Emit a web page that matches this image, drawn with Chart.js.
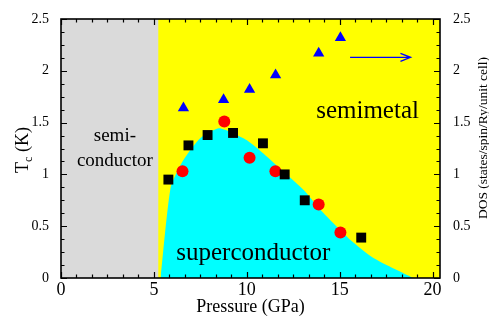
<!DOCTYPE html>
<html>
<head>
<meta charset="utf-8">
<script src="https://cdn.jsdelivr.net/npm/chart.js@4/dist/chart.umd.min.js"></script>
<style>
  html, body { margin: 0; padding: 0; background: #fff; }
  canvas { display: block; }
</style>
</head>
<body>
<canvas id="chart" width="489" height="320"></canvas>
<script>
// Tc (left axis) and DOS (right axis) vs pressure
var squareP  = [5.78, 6.86, 7.89, 9.26, 10.87, 12.04, 13.12, 16.16];
var squareTc = [0.95, 1.28, 1.38, 1.40, 1.30, 1.00, 0.75, 0.39];

var circleP  = [6.54, 8.79, 10.15, 11.54, 13.87, 15.04];
var circleTc = [1.03, 1.51, 1.16, 1.03, 0.71, 0.44];

var dosP   = [6.59, 8.75, 10.15, 11.55, 13.87, 15.04];
var dosVal = [1.64, 1.72, 1.82, 1.96, 2.17, 2.32];

// superconducting dome outline
var domeP  = [5.36, 5.91, 6.59, 7.49, 8.48, 9.11, 10.01, 10.91, 11.98, 13.06, 14.14, 15.58, 16.84, 18.81, 18.98];
var domeTc = [0, 0.88, 1.14, 1.35, 1.445, 1.41, 1.33, 1.20, 1.026, 0.85, 0.625, 0.367, 0.19, 0.013, 0];

// phase boundaries
var semiEdgeP = 5.25;
var pMax = 20.4;
var tcMax = 2.5;

// tick labels
var xTicks = [0, 5, 10, 15, 20];
var yTicks = [0, 0.5, 1, 1.5, 2, 2.5];

var SERIF = '"Liberation Serif", "Times New Roman", serif';

function pts(xs, ys) {
  return xs.map(function (x, i) { return { x: x, y: ys[i] }; });
}

function fixTicks(list) {
  return function (scale) {
    scale.ticks = list.map(function (v) { return { value: v }; });
  };
}

function yLabel(v) { return String(v); }

/** Inward ticks, frame, arrow, region labels and axis titles. */
var framePlugin = {
  id: 'frame',
  afterDatasetsDraw: function (chart) {
    var ctx = chart.ctx;
    var a = chart.chartArea;
    var xs = chart.scales.x, ys = chart.scales.y, y2 = chart.scales.y2;
    var i, v, px, len;

    ctx.save();
    ctx.strokeStyle = '#000';
    ctx.lineWidth = 1.2;
    ctx.beginPath();
    // x ticks top and bottom, major every 5, minor every 5/6
    for (i = 0; i * 5 / 6 <= pMax + 1e-6; i++) {
      v = i * 5 / 6;
      px = Math.round(xs.getPixelForValue(v)) + 0.5;
      len = (i % 6 === 0) ? 6 : 3.5;
      ctx.moveTo(px, a.bottom); ctx.lineTo(px, a.bottom - len);
      ctx.moveTo(px, a.top); ctx.lineTo(px, a.top + len);
    }
    // y ticks left and right, major every 0.5, minor every 0.125
    for (i = 0; i * 0.125 <= tcMax + 1e-6; i++) {
      v = i * 0.125;
      len = (i % 4 === 0) ? 6 : 3.5;
      px = Math.round(ys.getPixelForValue(v)) + 0.5;
      ctx.moveTo(a.left, px); ctx.lineTo(a.left + len, px);
      px = Math.round(y2.getPixelForValue(v)) + 0.5;
      ctx.moveTo(a.right, px); ctx.lineTo(a.right - len, px);
    }
    ctx.stroke();

    ctx.lineWidth = 1.6;
    ctx.strokeRect(a.left, a.top, a.right - a.left, a.bottom - a.top);

    // arrow pointing to the DOS axis
    var ax0 = xs.getPixelForValue(15.56), ax1 = xs.getPixelForValue(18.81);
    var ay = y2.getPixelForValue(2.13);
    ctx.strokeStyle = '#0000ff';
    ctx.lineWidth = 1.4;
    ctx.beginPath();
    ctx.moveTo(ax0, ay); ctx.lineTo(ax1, ay);
    ctx.moveTo(ax1 - 10, ay - 4); ctx.lineTo(ax1, ay); ctx.lineTo(ax1 - 10, ay + 4);
    ctx.stroke();

    // region labels
    ctx.fillStyle = '#000';
    ctx.textAlign = 'center';
    ctx.textBaseline = 'alphabetic';
    ctx.font = '25px ' + SERIF;
    ctx.fillText('semimetal', xs.getPixelForValue(16.5), ys.getPixelForValue(1.54));
    ctx.fillText('superconductor', xs.getPixelForValue(10.35), ys.getPixelForValue(0.17));
    ctx.font = '19px ' + SERIF;
    ctx.fillText('semi-', xs.getPixelForValue(2.9), ys.getPixelForValue(1.32));
    ctx.fillText('conductor', xs.getPixelForValue(2.9), ys.getPixelForValue(1.08));

    // x title
    ctx.font = '18px ' + SERIF;
    ctx.textBaseline = 'middle';
    ctx.fillText('Pressure (GPa)', (a.left + a.right) / 2, 307);

    // left title: T_c (K)
    ctx.save();
    ctx.translate(22, 150);
    ctx.rotate(-Math.PI / 2);
    ctx.textAlign = 'left';
    ctx.textBaseline = 'alphabetic';
    var big = '18px ' + SERIF, small = '12px ' + SERIF;
    ctx.font = big;
    var wT = ctx.measureText('T').width;
    var wK = ctx.measureText(' (K)').width;
    ctx.font = small;
    var wc = ctx.measureText('c').width;
    var x0 = -(wT + wc + wK) / 2;
    ctx.font = big;
    ctx.fillText('T', x0, 6);
    ctx.font = small;
    ctx.fillText('c', x0 + wT, 10);
    ctx.font = big;
    ctx.fillText(' (K)', x0 + wT + wc, 6);
    ctx.restore();

    // right title
    ctx.save();
    ctx.translate(483, 138);
    ctx.rotate(-Math.PI / 2);
    ctx.font = '13.5px ' + SERIF;
    ctx.textAlign = 'center';
    ctx.textBaseline = 'middle';
    ctx.fillText('DOS (states/spin/Ry/unit cell)', 0, 0);
    ctx.restore();

    ctx.restore();
  }
};

new Chart(document.getElementById('chart').getContext('2d'), {
  type: 'scatter',
  data: {
    datasets: [
      {
        label: 'Tc squares',
        data: pts(squareP, squareTc),
        pointStyle: 'rect',
        pointRadius: 7,
        backgroundColor: '#000',
        borderWidth: 0,
        order: 1
      },
      {
        label: 'Tc circles',
        data: pts(circleP, circleTc),
        pointStyle: 'circle',
        pointRadius: 6,
        backgroundColor: '#ff0000',
        borderWidth: 0,
        order: 2
      },
      {
        label: 'DOS',
        data: pts(dosP, dosVal),
        yAxisID: 'y2',
        pointStyle: 'triangle',
        pointRadius: 6.5,
        backgroundColor: '#0000ff',
        borderWidth: 0,
        order: 3
      },
      {
        label: 'superconductor',
        data: pts(domeP, domeTc),
        showLine: true,
        pointRadius: 0,
        borderWidth: 0,
        tension: 0.2,
        backgroundColor: '#00ffff',
        fill: 'origin',
        order: 4
      },
      {
        label: 'semiconductor',
        data: pts([0, semiEdgeP], [tcMax, tcMax]),
        showLine: true,
        pointRadius: 0,
        borderWidth: 0,
        backgroundColor: '#dadada',
        fill: 'origin',
        order: 5
      },
      {
        label: 'semimetal',
        data: pts([0, pMax], [tcMax, tcMax]),
        showLine: true,
        pointRadius: 0,
        borderWidth: 0,
        backgroundColor: '#ffff00',
        fill: 'origin',
        order: 6
      }
    ]
  },
  options: {
    responsive: false,
    animation: false,
    layout: { padding: { top: 19, left: 0, right: 0, bottom: 0 } },
    plugins: {
      legend: { display: false },
      tooltip: { enabled: false }
    },
    scales: {
      x: {
        type: 'linear',
        position: 'bottom',
        min: 0,
        max: pMax,
        grid: { display: false },
        border: { display: false },
        ticks: { color: '#000', font: { family: SERIF, size: 18 }, padding: -7, maxRotation: 0 },
        afterBuildTicks: fixTicks(xTicks),
        afterFit: function (s) { s.height = 42; }
      },
      y: {
        type: 'linear',
        position: 'left',
        min: 0,
        max: tcMax,
        grid: { display: false },
        border: { display: false },
        ticks: { color: '#000', font: { family: SERIF, size: 14 }, padding: 4, callback: yLabel },
        afterBuildTicks: fixTicks(yTicks),
        afterFit: function (s) { s.width = 61; }
      },
      y2: {
        type: 'linear',
        position: 'right',
        min: 0,
        max: tcMax,
        grid: { display: false },
        border: { display: false },
        ticks: { color: '#000', font: { family: SERIF, size: 14 }, padding: 5, callback: yLabel },
        afterBuildTicks: fixTicks(yTicks),
        afterFit: function (s) { s.width = 49; }
      }
    }
  },
  plugins: [framePlugin]
});
</script>
</body>
</html>
